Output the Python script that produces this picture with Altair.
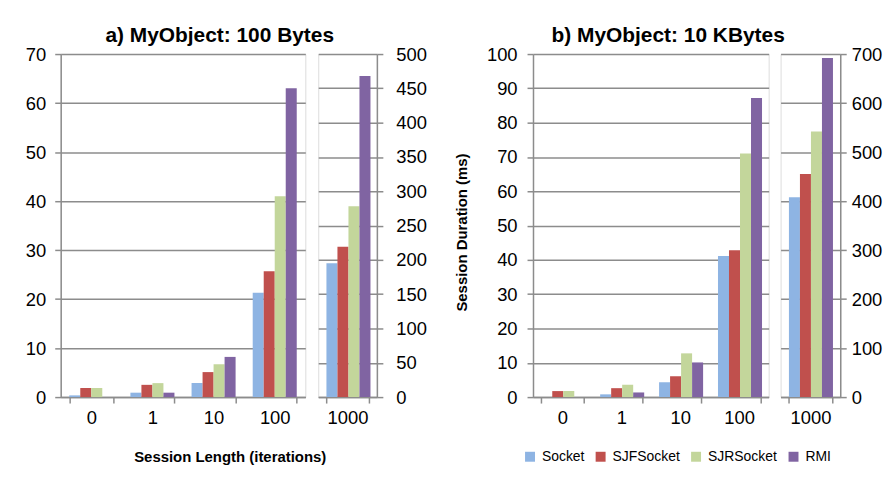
import altair as alt
import pandas as pd

categories = ["0", "1", "10", "100", "1000"]
main_cats = ["0", "1", "10", "100"]
sub_cats = ["1000"]
series = ["Socket", "SJFSocket", "SJRSocket", "RMI"]
colors = ["#8EB4E3", "#C0504D", "#C3D69B", "#8064A2"]

# panel a) 100 Bytes (last category on right axis)
a_socket = [0.35, 0.9, 2.9, 21.3, 195]
a_sjf = [1.85, 2.5, 5.1, 25.7, 219]
a_sjr = [1.85, 2.85, 6.7, 41.0, 278]
a_rmi = [0.0, 0.9, 8.2, 63.0, 468]
# panel b) 10 KBytes
b_socket = [0.0, 0.8, 4.35, 41.1, 408]
b_sjf = [1.75, 2.6, 6.1, 42.8, 455]
b_sjr = [1.75, 3.6, 12.75, 71.0, 542]
b_rmi = [0.0, 1.35, 10.1, 87.2, 692]

rows = []
for panel, vals in [("a", [a_socket, a_sjf, a_sjr, a_rmi]),
                    ("b", [b_socket, b_sjf, b_sjr, b_rmi])]:
    for s, v in zip(series, vals):
        for c, x in zip(categories, v):
            rows.append({"panel": panel, "part": "sub" if c in sub_cats else "main",
                         "cat": c, "series": s, "value": x})
df = pd.DataFrame(rows)

FONT = "Liberation Sans"
GRID = "#8C8C8C"
LFS = 18.5

color = alt.Color(
    "series:N", sort=series,
    scale=alt.Scale(domain=series, range=colors),
    legend=alt.Legend(title=None, orient="none", legendX=465, legendY=398,
                      direction="horizontal", symbolType="square", symbolSize=100,
                      symbolStrokeWidth=0, labelFontSize=14, labelFont=FONT,
                      labelColor="black", columnPadding=9, labelOffset=5),
)


def xenc(cats, **kw):
    axis = alt.Axis(labelAngle=0, labelFontSize=LFS, labelFont=FONT, labelColor="black",
                    tickBand="extent", tickSize=6, tickColor=GRID, tickWidth=1.5,
                    domainColor=GRID, domainWidth=1.5, labelPadding=6, grid=False, **kw)
    return alt.X("cat:N", sort=cats,
                 scale=alt.Scale(domain=cats, paddingInner=0.28, paddingOuter=0.14),
                 axis=axis)


def yenc(maxv, step, orient, pad, **kw):
    axis = alt.Axis(orient=orient, values=list(range(0, maxv + 1, step)), grid=True,
                    gridColor=GRID, gridWidth=1.5, domainColor=GRID, domainWidth=1.5,
                    tickColor=GRID, tickWidth=1.5, tickSize=6, labelFontSize=LFS,
                    labelFont=FONT, labelColor="black", labelPadding=pad, **kw)
    return alt.Y("value:Q", scale=alt.Scale(domain=[0, maxv], nice=False, zero=True),
                 axis=axis)


def bars(panel, part, x, y, w):
    return alt.Chart(df).transform_filter(
        f"datum.panel == '{panel}' && datum.part == '{part}'"
    ).mark_bar().encode(
        x=x,
        xOffset=alt.XOffset("series:N", sort=series, scale=alt.Scale(domain=series)),
        y=y,
        color=color,
    ).properties(width=w, height=345)


mainA = bars("a", "main",
             xenc(main_cats, title="Session Length (iterations)", titleFont=FONT,
                  titleFontSize=15, titleFontWeight="bold", titleX=170, titleY=60,
                  titleBaseline="middle", titleAlign="center", titleAnchor="start"),
             yenc(70, 10, "left", 9, title=None, minExtent=48), 246)

subA = bars("a", "sub", xenc(sub_cats, title=None),
            yenc(500, 50, "right", 13, title=None), 59)

mainB = bars("b", "main", xenc(main_cats, title=None),
             yenc(100, 10, "left", 10, title="Session Duration (ms)", titleFont=FONT,
                  titleFontSize=15, titleFontWeight="bold", titleX=-72, titleY=179,
                  titleBaseline="middle", titleAlign="center", titleAngle=270), 237)
subB = bars("b", "sub", xenc(sub_cats, title=None),
            yenc(700, 100, "right", 5, title=None), 60)

title_kw = dict(fontSize=21, fontWeight="bold", font=FONT, color="black", anchor="middle",
                offset=-1)
A = alt.hconcat(mainA, subA, spacing=13, bounds="flush").properties(
    title=alt.TitleParams("a) MyObject: 100 Bytes", **title_kw))
B = alt.hconcat(mainB, subB, spacing=12, bounds="flush").properties(
    title=alt.TitleParams("b) MyObject: 10 KBytes", **title_kw))

chart = alt.hconcat(A, B, spacing=26).properties(
    padding={"left": 4, "top": 15, "right": 0, "bottom": 0}
).configure_view(strokeWidth=0).configure(background="white")

chart.save("out.html", embed_options={"renderer": "svg", "actions": False})
